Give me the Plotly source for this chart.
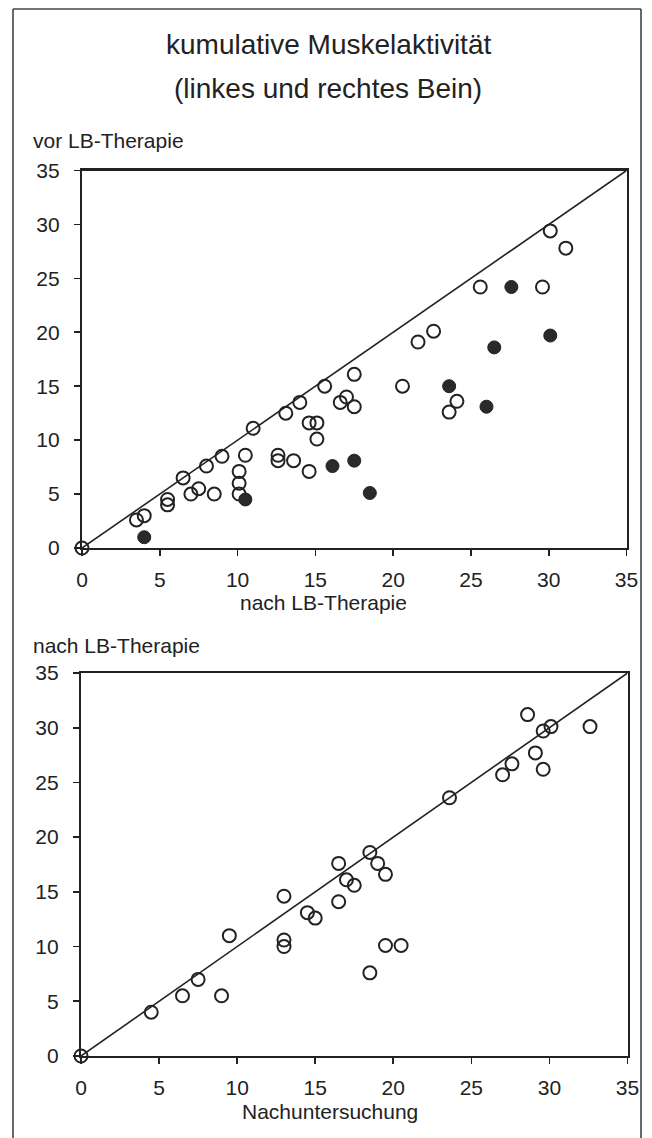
import plotly.graph_objects as go

# ---------------- data ----------------
# top panel: x = nach LB-Therapie, y = vor LB-Therapie
top_open_x = [0.0, 3.5, 4.0, 5.5, 5.5, 6.5, 7.0, 7.5, 8.0, 8.5, 9.0, 10.1, 10.1, 10.1,
              10.5, 11.0, 12.6, 12.6, 13.1, 13.6, 14.0, 14.6, 14.6, 15.1, 15.1, 15.6,
              16.6, 17.0, 17.5, 17.5, 20.6, 21.6, 22.6, 24.1, 23.6, 25.6, 29.6, 30.1, 31.1]
top_open_y = [0.0, 2.6, 3.0, 4.5, 4.0, 6.5, 5.0, 5.5, 7.6, 5.0, 8.5, 7.1, 6.0, 5.0,
              8.6, 11.1, 8.6, 8.1, 12.5, 8.1, 13.5, 7.1, 11.6, 11.6, 10.1, 15.0,
              13.5, 14.0, 16.1, 13.1, 15.0, 19.1, 20.1, 13.6, 12.6, 24.2, 24.2, 29.4, 27.8]
top_fill_x = [4.0, 10.5, 16.1, 17.5, 18.5, 23.6, 26.0, 26.5, 27.6, 30.1]
top_fill_y = [1.0, 4.5, 7.6, 8.1, 5.1, 15.0, 13.1, 18.6, 24.2, 19.7]

# bottom panel: x = Nachuntersuchung, y = nach LB-Therapie
bot_x = [0.0, 4.5, 6.5, 7.5, 9.0, 9.5, 13.0, 13.0, 13.0, 14.5, 15.0, 16.5, 16.5, 17.0,
         17.5, 18.5, 19.0, 19.5, 19.5, 20.5, 18.5, 23.6, 27.0, 27.6, 28.6, 29.1, 29.6,
         29.6, 30.1, 32.6]
bot_y = [0.0, 4.0, 5.5, 7.0, 5.5, 11.0, 14.6, 10.6, 10.0, 13.1, 12.6, 17.6, 14.1, 16.1,
         15.6, 18.6, 17.6, 16.6, 10.1, 10.1, 7.6, 23.6, 25.7, 26.7, 31.2, 27.7, 26.2,
         29.7, 30.1, 30.1]

diag = [0, 35]
ticks = [0, 5, 10, 15, 20, 25, 30, 35]

title_1 = "kumulative Muskelaktivität"
title_2 = "(linkes und rechtes Bein)"
top_ylabel = "vor LB-Therapie"
top_xlabel = "nach LB-Therapie"
bot_ylabel = "nach LB-Therapie"
bot_xlabel = "Nachuntersuchung"

# ---------------- layout helpers ----------------
W, H = 652, 1138
FONT = "Liberation Sans, Arial, sans-serif"
INK = "#222222"


def px(x):
    return x / W


def py(y):
    return 1 - y / H


fig = go.Figure()

circle_open = dict(symbol="circle-open", size=13, color=INK, line=dict(width=2, color=INK))
circle_fill = dict(symbol="circle", size=13, color="#2a2a2a", line=dict(width=1, color=INK))

fig.add_trace(go.Scatter(x=diag, y=diag, mode="lines", line=dict(color=INK, width=1.6),
                         xaxis="x", yaxis="y", showlegend=False, hoverinfo="skip"))
fig.add_trace(go.Scatter(x=top_open_x, y=top_open_y, mode="markers", marker=circle_open,
                         xaxis="x", yaxis="y", showlegend=False, cliponaxis=False))
fig.add_trace(go.Scatter(x=top_fill_x, y=top_fill_y, mode="markers", marker=circle_fill,
                         xaxis="x", yaxis="y", showlegend=False, cliponaxis=False))
fig.add_trace(go.Scatter(x=diag, y=diag, mode="lines", line=dict(color=INK, width=1.6),
                         xaxis="x2", yaxis="y2", showlegend=False, hoverinfo="skip"))
fig.add_trace(go.Scatter(x=bot_x, y=bot_y, mode="markers", marker=circle_open,
                         xaxis="x2", yaxis="y2", showlegend=False, cliponaxis=False))

axis_common = dict(range=[0, 35], tickvals=ticks, showgrid=False, zeroline=False,
                   showline=True, linecolor=INK, linewidth=2.2, mirror=True,
                   ticks="outside", ticklen=6, tickwidth=1.6, tickcolor=INK,
                   tickfont=dict(family=FONT, size=21, color=INK), fixedrange=True,
                   automargin=False)

fig.update_layout(
    template="none",
    autosize=False,
    width=W, height=H,
    margin=dict(l=0, r=0, t=0, b=0, pad=0, autoexpand=False),
    paper_bgcolor="white", plot_bgcolor="white",
    xaxis=dict(axis_common, domain=[px(82), px(626.5)], anchor="y", ticklabelstandoff=6),
    yaxis=dict(axis_common, domain=[py(548), py(170.5)], anchor="x", ticklabelstandoff=10),
    xaxis2=dict(axis_common, domain=[px(81), px(627.5)], anchor="y2", ticklabelstandoff=6),
    yaxis2=dict(axis_common, domain=[py(1056), py(673)], anchor="x2", ticklabelstandoff=10),
    showlegend=False,
)

ann = []
ann.append(dict(text=title_1, x=px(328), y=py(45), xanchor="center", yanchor="middle",
                font=dict(family=FONT, size=28, color=INK)))
ann.append(dict(text=title_2, x=px(328), y=py(88), xanchor="center", yanchor="middle",
                font=dict(family=FONT, size=28, color=INK)))
ann.append(dict(text=top_ylabel, x=px(31), y=py(140), xanchor="left", yanchor="middle",
                font=dict(family=FONT, size=21, color=INK)))
ann.append(dict(text=top_xlabel, x=px(323.5), y=py(602), xanchor="center", yanchor="middle",
                font=dict(family=FONT, size=21, color=INK)))
ann.append(dict(text=bot_ylabel, x=px(31), y=py(645), xanchor="left", yanchor="middle",
                font=dict(family=FONT, size=21, color=INK)))
ann.append(dict(text=bot_xlabel, x=px(330), y=py(1111), xanchor="center", yanchor="middle",
                font=dict(family=FONT, size=21, color=INK)))
for a in ann:
    a.update(xref="paper", yref="paper", showarrow=False)
fig.update_layout(annotations=ann)

frame = dict(type="line", xref="paper", yref="paper", line=dict(color="#444444", width=1.6))
fig.add_shape(frame, x0=px(13), x1=px(13), y0=0, y1=py(9))
fig.add_shape(frame, x0=px(13), x1=px(641), y0=py(9), y1=py(9))
fig.add_shape(frame, x0=px(641), x1=px(641), y0=0, y1=py(9))

fig.write_html(
    "out.html",
    config={"displayModeBar": False, "responsive": False, "staticPlot": True},
    post_script=("document.documentElement.style.margin='0';"
                 "document.documentElement.style.overflow='hidden';"
                 "document.body.style.margin='0';"
                 "document.body.style.overflow='hidden';"),
)
